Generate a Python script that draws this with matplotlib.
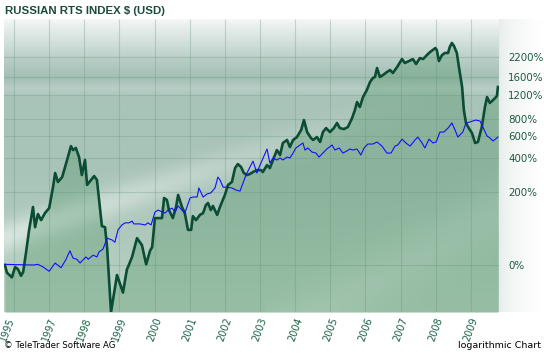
import numpy as np
import matplotlib
matplotlib.use('Agg')
import matplotlib.pyplot as plt
from matplotlib.colors import to_rgb

# RTS index (USD), % change since start
g_t = [1995.74, 1995.80, 1995.94, 1996.03, 1996.11, 1996.20, 1996.26, 1996.34, 1996.43, 1996.54,
       1996.60, 1996.68, 1996.77, 1996.88, 1997.00, 1997.11, 1997.17, 1997.25, 1997.37, 1997.51,
       1997.62, 1997.68, 1997.76, 1997.85, 1997.93, 1998.02, 1998.08, 1998.19, 1998.28, 1998.36,
       1998.45, 1998.50, 1998.59, 1998.65, 1998.76, 1998.93, 1999.10, 1999.21, 1999.36, 1999.50,
       1999.64, 1999.76, 1999.87, 1999.93, 2000.01, 2000.21, 2000.27, 2000.35, 2000.41, 2000.52,
       2000.61, 2000.67, 2000.78, 2000.86, 2000.95, 2001.04, 2001.09, 2001.18, 2001.29, 2001.38,
       2001.46, 2001.52, 2001.60, 2001.66, 2001.78, 2001.86, 2002.00, 2002.09, 2002.20, 2002.29,
       2002.37, 2002.46, 2002.54, 2002.63, 2002.71, 2002.80, 2002.91, 2003.03, 2003.08, 2003.20,
       2003.28, 2003.37, 2003.48, 2003.57, 2003.65, 2003.77, 2003.85, 2003.94, 2004.05, 2004.17,
       2004.25, 2004.34, 2004.45, 2004.51, 2004.62, 2004.71, 2004.79, 2004.88, 2004.99, 2005.10,
       2005.19, 2005.27, 2005.39, 2005.50, 2005.62, 2005.70, 2005.76, 2005.84, 2005.93, 2006.04,
       2006.13, 2006.21, 2006.27, 2006.33, 2006.41, 2006.50, 2006.61, 2006.70, 2006.78, 2006.90,
       2007.04, 2007.12, 2007.24, 2007.35, 2007.44, 2007.55, 2007.64, 2007.75, 2007.84, 2007.99,
       2008.03, 2008.09, 2008.18, 2008.26, 2008.35, 2008.40, 2008.46, 2008.52, 2008.60, 2008.66,
       2008.75, 2008.80, 2008.86, 2008.94, 2009.03, 2009.12, 2009.20, 2009.31, 2009.40, 2009.46,
       2009.54, 2009.63, 2009.74, 2009.77]
g_pct = [0, -11, -17, -3, -6, -15, -10, 20, 70, 140,
         77, 116, 97, 119, 136, 224, 301, 250, 277, 388,
         502, 467, 485, 410, 289, 388, 235, 261, 283, 261,
         129, 80, 77, 29, -51, -14, -34, -7, 13, 50,
         35, 1, 24, 31, 103, 103, 175, 167, 129, 103,
         140, 188, 140, 119, 70, 70, 109, 97, 113, 119,
         147, 155, 129, 144, 113, 140, 188, 235, 250, 332,
         359, 339, 301, 289, 295, 307, 319, 319, 307, 352,
         332, 388, 467, 426, 531, 560, 493, 560, 590, 667,
         792, 644, 580, 560, 590, 540, 644, 690, 644, 690,
         753, 690, 678, 703, 819, 937, 1070, 985, 1162, 1304,
         1484, 1582, 1608, 1855, 1608, 1660, 1741, 1797, 1715, 1885,
         2139, 2010, 2074, 2139, 1978, 2174, 2139, 2281, 2391, 2545,
         2467, 2074, 2281, 2355, 2355, 2586, 2755, 2626, 2355, 1885,
         1369, 937, 753, 690, 634, 531, 540, 703, 985, 1162,
         1054, 1106, 1181, 1369]

# comparison line (blue)
b_t = [1995.74, 1996.54, 1996.68, 1996.83, 1997.00, 1997.17, 1997.34, 1997.48, 1997.59, 1997.68,
       1997.79, 1997.88, 1997.96, 1998.05, 1998.11, 1998.25, 1998.36, 1998.42, 1998.53, 1998.65,
       1998.79, 1998.87, 1998.96, 1999.07, 1999.16, 1999.27, 1999.36, 1999.41, 1999.58, 1999.73,
       1999.81, 1999.90, 2000.01, 2000.10, 2000.24, 2000.30, 2000.38, 2000.50, 2000.58, 2000.67,
       2000.78, 2000.86, 2001.01, 2001.09, 2001.21, 2001.26, 2001.38, 2001.49, 2001.60, 2001.72,
       2001.80, 2001.86, 2001.95, 2002.06, 2002.20, 2002.32, 2002.43, 2002.60, 2002.80, 2002.91,
       2003.00, 2003.20, 2003.28, 2003.37, 2003.48, 2003.57, 2003.65, 2003.77, 2003.85, 2003.94,
       2004.02, 2004.14, 2004.22, 2004.28, 2004.36, 2004.48, 2004.59, 2004.68, 2004.79, 2004.90,
       2005.05, 2005.13, 2005.25, 2005.36, 2005.47, 2005.56, 2005.64, 2005.76, 2005.87, 2005.96,
       2006.07, 2006.21, 2006.33, 2006.47, 2006.61, 2006.73, 2006.84, 2006.92, 2007.04, 2007.15,
       2007.27, 2007.41, 2007.49, 2007.61, 2007.69, 2007.81, 2007.92, 2008.01, 2008.12, 2008.23,
       2008.35, 2008.46, 2008.55, 2008.63, 2008.77, 2008.86, 2008.97, 2009.14, 2009.26, 2009.34,
       2009.46, 2009.54, 2009.63, 2009.77]
b_pct = [1, 0, 1, -3, -9, 3, -4, 9, 24, 11,
         9, 3, 8, 13, 9, 16, 13, 22, 27, 50,
         46, 41, 70, 83, 89, 89, 94, 86, 86, 83,
         89, 83, 122, 129, 122, 119, 129, 136, 122, 144,
         129, 119, 175, 179, 179, 220, 179, 192, 197, 220,
         277, 261, 224, 224, 220, 210, 205, 289, 380, 301,
         352, 476, 366, 403, 388, 403, 388, 410, 403, 442,
         485, 512, 531, 467, 485, 450, 442, 410, 442, 476,
         512, 467, 485, 442, 459, 476, 467, 476, 426, 485,
         521, 521, 540, 502, 442, 442, 502, 512, 569, 531,
         502, 560, 590, 531, 485, 569, 531, 540, 644, 644,
         690, 753, 667, 590, 644, 753, 766, 792, 779, 703,
         601, 580, 550, 590]

y_ticks = [0, 200, 400, 600, 800, 1200, 1600, 2200]
year_labels = ['1995', '1997', '1998', '1999', '2000', '2001', '2002', '2003',
               '2004', '2005', '2006', '2007', '2008', '2009']
year_ticks = [1995.82] + list(range(1997, 2010))
grid_years = list(range(1996, 2010))


def lvl(p):
    # % change -> growth factor, plotted on log axis
    return 1 + np.asarray(p, dtype=float) / 100.0


W_PX, H_PX = 544, 353
fig = plt.figure(figsize=(W_PX / 100, H_PX / 100), dpi=100)
fig.patch.set_facecolor('white')
L, R, T, B = 4, 499, 19, 312

# white fade panel to the right of the plot (added first so tick labels sit on top)
axr = fig.add_axes([R / W_PX, 1 - B / H_PX, (W_PX - R) / W_PX, (B - T) / H_PX])
grad = np.linspace(0, 1, 60)
c0, c1 = np.array(to_rgb('#e4ebe8')), np.array(to_rgb('#ffffff'))
axr.imshow((c0 + (c1 - c0) * np.sqrt(grad)[:, None])[None, :, :], extent=[0, 1, 0, 1], aspect='auto')
axr.axis('off')
axr.set_zorder(0)

ax = fig.add_axes([L / W_PX, 1 - B / H_PX, (R - L) / W_PX, (B - T) / H_PX])
ax.set_zorder(1)

# background gradient of the plot panel
H, W = B - T, R - L
yy, xx = np.mgrid[0:H, 0:W].astype(float)
t = yy / (H - 1)
stops = [0.0, 0.07, 0.14, 0.2, 0.235, 0.27, 0.5, 0.75, 1.0]
cols = ['#f4f7f6', '#d5e2dd', '#b7cdc5', '#a3bfb4', '#b8cec6', '#a9c3b9', '#a8c3b8', '#afcabd', '#bad3c5']
rgb = np.array([to_rgb(c) for c in cols])
base = np.stack([np.interp(t, stops, rgb[:, k]) for k in range(3)], axis=-1)
streak = 0.5 * np.exp(-((yy - (218 - 0.33 * xx)) / 16) ** 2) * np.clip(1 - xx / 420, 0, 1)
swoosh = 0.18 * np.exp(-((yy - (300 - 0.55 * (xx - 300))) / 30) ** 2) * (xx > 260)
light = np.clip(streak + swoosh, 0, 0.6)[..., None]
img = base * (1 - light) + light
ax.imshow(img, extent=[0, 1, 0, 1], transform=ax.transAxes, aspect='auto', zorder=0)

ax.set_yscale('log')
ax.set_xlim(1995.715, 2009.80)
ax.set_ylim(0.492, 41.0)

ax.vlines(grid_years, 0.492, 41.0, color='#6f9a87', alpha=0.35, lw=0.8, zorder=1)
for yv in lvl(y_ticks):
    ax.axhline(yv, color='#6f9a87', alpha=0.35, lw=0.8, zorder=1)

ax.fill_between(g_t, lvl(g_pct), 0.3, color='#4f9363', alpha=0.32, lw=0, zorder=2)
ax.plot(g_t, lvl(g_pct), color='#0b4d34', lw=1.9, zorder=4, solid_joinstyle='round')
ax.plot(b_t, lvl(b_pct), color='#1010ff', lw=0.8, zorder=5)

ax.yaxis.tick_right()
ax.set_yticks(lvl(y_ticks))
ax.set_yticklabels([f'{v}%' for v in y_ticks])
ax.yaxis.set_minor_locator(matplotlib.ticker.NullLocator())
ax.tick_params(axis='y', length=0, pad=6.5, labelsize=7.4, labelcolor='#1e5a40')
ax.set_xticks(year_ticks)
ax.set_xticklabels(year_labels, rotation=70, ha='center')
ax.tick_params(axis='x', length=0, pad=3, labelsize=7, labelcolor='#1a6243')
for s in ax.spines.values():
    s.set_visible(False)

fig.text(5 / W_PX, 1 - 11 / H_PX, 'RUSSIAN RTS INDEX $ (USD)', fontsize=8.2, fontweight='bold',
         color='#1b4c39', family='Liberation Sans', va='center', ha='left')
fig.text(4 / W_PX, 1 - 345 / H_PX, '\u00a9 TeleTrader Software AG', fontsize=6.2,
         color='black', va='center', ha='left')
fig.text(541 / W_PX, 1 - 345 / H_PX, 'logarithmic Chart', fontsize=6.8,
         color='black', va='center', ha='right')

fig.savefig('out.png', dpi=100)
